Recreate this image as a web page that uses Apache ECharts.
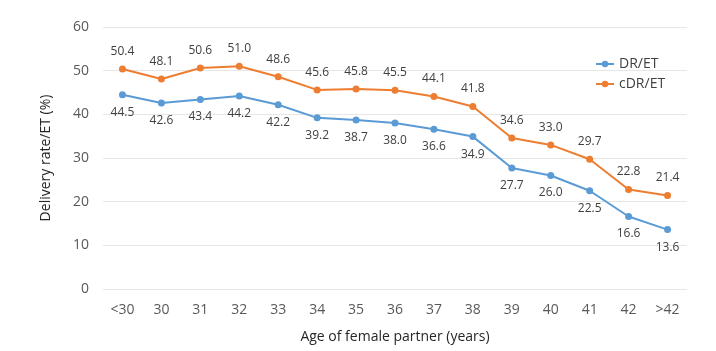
<!DOCTYPE html>
<html><head><meta charset="utf-8">
<script src="https://cdn.jsdelivr.net/npm/echarts@6/dist/echarts.min.js"></script>
<style>html,body{margin:0;padding:0;background:#fff}#c{width:716px;height:351px}</style>
</head><body><div id="c"></div>
<script>
var categories = ['<30','30','31','32','33','34','35','36','37','38','39','40','41','42','>42'];
var drET = [44.5,42.6,43.4,44.2,42.2,39.2,38.7,38.0,36.6,34.9,27.7,26.0,22.5,16.6,13.6];
var cdrET = [50.4,48.1,50.6,51.0,48.6,45.6,45.8,45.5,44.1,41.8,34.6,33.0,29.7,22.8,21.4];
var yTicks = {min:0, max:60, interval:10};
var font = 'Open Sans';
var chart = echarts.init(document.getElementById('c'));
chart.setOption({
  animation:false,
  textStyle:{fontFamily:font},
  grid:{left:103, right:29, top:27, bottom:62, containLabel:false},
  legend:{orient:'vertical', left:590, top:52, itemGap:6, itemWidth:18, itemHeight:8,
    textStyle:{fontFamily:font, fontSize:14, color:'#404040'},
    data:['DR/ET','cDR/ET']},
  xAxis:{type:'category', data:categories, boundaryGap:true,
    axisLine:{show:false}, axisTick:{show:false},
    axisLabel:{fontFamily:font, fontSize:14, color:'#595959', margin:14},
    name:'Age of female partner (years)', nameLocation:'middle', nameGap:41,
    nameTextStyle:{fontFamily:font, fontSize:14, color:'#262626'}},
  yAxis:{type:'value', min:yTicks.min, max:yTicks.max, interval:yTicks.interval,
    axisLine:{show:false}, axisTick:{show:false},
    splitLine:{lineStyle:{color:'#e6e6e6'}},
    axisLabel:{fontFamily:font, fontSize:14, color:'#595959', margin:14},
    name:'Delivery rate/ET (%)', nameLocation:'middle', nameGap:50, nameRotate:90,
    nameTextStyle:{fontFamily:font, fontSize:14, color:'#262626'}},
  series:[
    {name:'DR/ET', type:'line', data:drET, symbol:'circle', symbolSize:7,
     itemStyle:{color:'#5B9BD5'}, lineStyle:{width:2, color:'#5B9BD5'},
     label:{show:true, position:'bottom', distance:8, formatter:function(p){return p.value.toFixed(1);},
       fontFamily:font, fontSize:12, color:'#404040'}},
    {name:'cDR/ET', type:'line', data:cdrET, symbol:'circle', symbolSize:7,
     itemStyle:{color:'#ED7D31'}, lineStyle:{width:2, color:'#ED7D31'},
     label:{show:true, position:'top', distance:8, formatter:function(p){return p.value.toFixed(1);},
       fontFamily:font, fontSize:12, color:'#404040'}}
  ]
});
</script></body></html>
